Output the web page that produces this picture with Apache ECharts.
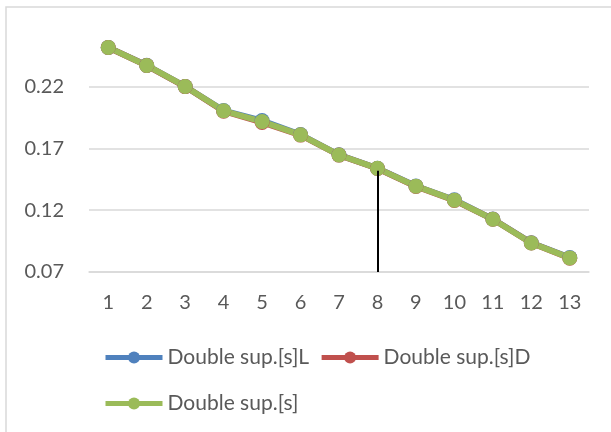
<!DOCTYPE html>
<html>
<head>
<meta charset="utf-8">
<script src="https://cdn.jsdelivr.net/npm/echarts@6/dist/echarts.min.js"></script>
<style>
html,body{margin:0;padding:0;background:#fff;}
#chart{width:611px;height:432px;}
</style>
</head>
<body>
<div id="chart"></div>
<script>
const categories = ['1','2','3','4','5','6','7','8','9','10','11','12','13'];
const seriesNames = ['Double sup.[s]L', 'Double sup.[s]D', 'Double sup.[s]'];
const valuesL = [0.2516, 0.2371, 0.2200, 0.2005, 0.1924, 0.1811, 0.1647, 0.1539, 0.1395, 0.1284, 0.1128, 0.0936, 0.0817];
const valuesD = [0.2515, 0.2369, 0.2199, 0.2000, 0.1909, 0.1807, 0.1645, 0.1537, 0.1392, 0.1279, 0.1126, 0.0934, 0.0812];
const valuesS = [0.2516, 0.2370, 0.2200, 0.2003, 0.1916, 0.1809, 0.1646, 0.1538, 0.1394, 0.1281, 0.1127, 0.0935, 0.0814];
const dropCategory = '8';
const dropValue = 0.1538;
const yMin = 0.07, yMax = 0.26, yStep = 0.05;

const colors = ['#4f81bd', '#c0504d', '#9bbb59'];
const font = 'Lato, "Open Sans", sans-serif';
const textColor = '#595959';

const chart = echarts.init(document.getElementById('chart'), null, {renderer: 'canvas'});
function mkSeries(name, data, color, extra) {
  return Object.assign({
    name: name,
    type: 'line',
    data: data,
    symbol: 'circle',
    symbolSize: 15,
    color: color,
    lineStyle: {width: 6, color: color},
    itemStyle: {color: color},
    animation: false
  }, extra || {});
}
const legendCommon = {
  left: 98,
  itemWidth: 57, itemHeight: 15, itemGap: 10,
  textStyle: {fontFamily: font, fontSize: 21, color: textColor},
  lineStyle: {width: 5},
  selectedMode: false
};
chart.setOption({
  animation: false,
  backgroundColor: '#fff',
  graphic: [{
    type: 'rect',
    shape: {x: 6, y: 7, width: 640, height: 460},
    style: {fill: 'none', stroke: '#d9d9d9', lineWidth: 1.5},
    silent: true
  }],
  grid: {left: 89, right: 22, top: 37, bottom: 160, containLabel: false},
  legend: [
    Object.assign({data: [seriesNames[0], seriesNames[1]], top: 342, width: 520}, legendCommon),
    Object.assign({data: [seriesNames[2]], top: 388}, legendCommon)
  ],
  xAxis: {
    type: 'category',
    data: categories,
    boundaryGap: true,
    axisLine: {show: true, lineStyle: {color: '#d9d9d9', width: 1.5}},
    axisTick: {show: false},
    axisLabel: {fontFamily: font, fontSize: 20, color: textColor, margin: 21}
  },
  yAxis: {
    type: 'value',
    min: yMin, max: yMax, interval: yStep,
    axisLine: {show: false},
    axisTick: {show: false},
    axisLabel: {
      fontFamily: font, fontSize: 20, color: textColor, margin: 25,
      showMaxLabel: false,
      formatter: v => v.toFixed(2)
    },
    splitLine: {show: true, showMaxLine: false, lineStyle: {color: '#d9d9d9', width: 1.5}}
  },
  series: [
    mkSeries(seriesNames[0], valuesL, colors[0]),
    mkSeries(seriesNames[1], valuesD, colors[1]),
    mkSeries(seriesNames[2], valuesS, colors[2], {
      markLine: {
        silent: true,
        symbol: 'none',
        label: {show: false},
        lineStyle: {color: '#000', width: 2, type: 'solid'},
        data: [[{coord: [dropCategory, dropValue - 0.002]}, {coord: [dropCategory, yMin]}]]
      }
    })
  ]
});
</script>
</body>
</html>
